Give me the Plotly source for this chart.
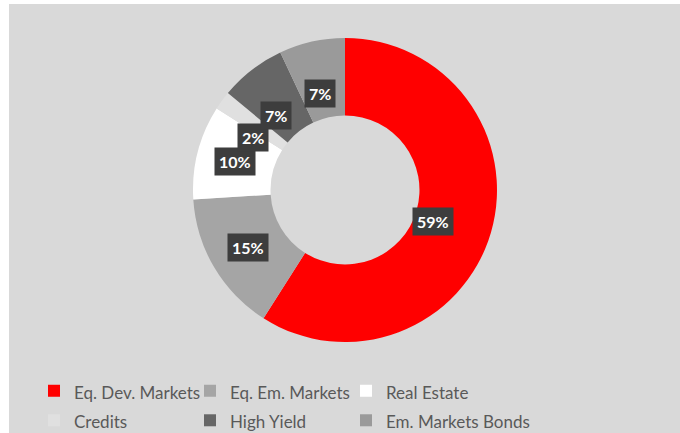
import math
import plotly.graph_objects as go

categories = ["Eq. Dev. Markets", "Eq. Em. Markets", "Real Estate", "Credits", "High Yield", "Em. Markets Bonds"]
values = [59, 15, 10, 2, 7, 7]
colors = ["#ff0000", "#a5a5a5", "#ffffff", "#e0e0e0", "#666666", "#9a9a9a"]

W, H = 680, 433
ML, MT, MR, MB = 9, 4, 150, 0
PW, PH = W - ML - MR, H - MT - MB

# pie geometry in pixels
cx, cy, R = 345, 190, 152
hole = 0.49

dom_x = [(cx - R - ML) / PW, (cx + R - ML) / PW]
dom_y = [1 - (cy + R - MT) / PH, 1 - (cy - R - MT) / PH]

legend_labels = ['<span style="font-size:17px">%s</span>' % c for c in categories]

fig = go.Figure()
fig.add_trace(go.Pie(
    labels=legend_labels, values=values, sort=False, direction="clockwise", rotation=0,
    hole=hole, textinfo="none", hoverinfo="label+percent",
    marker=dict(colors=colors, line=dict(width=0)),
    domain=dict(x=dom_x, y=dom_y),
))

# percentage labels in dark boxes, positioned from the values
total = sum(values)
rmid = R * (1 + hole) / 2
cum = 0
annotations = []
for v in values:
    mid = (cum + v / 2) / total * 2 * math.pi
    cum += v
    px = cx + rmid * math.sin(mid)
    py = cy - rmid * math.cos(mid)
    annotations.append(dict(
        x=(px - ML) / PW, y=1 - (py - MT) / PH, xref="paper", yref="paper",
        text="<b>%d%%</b>" % round(v / total * 100), showarrow=False,
        font=dict(family="Lato", size=16, color="#ffffff"),
        bgcolor="#3d3d3d", borderpad=4,
    ))

fig.update_layout(
    width=W, height=H,
    margin=dict(l=ML, t=MT, r=MR, b=MB, autoexpand=False),
    paper_bgcolor="#ffffff",
    shapes=[dict(type="rect", xref="paper", yref="paper", x0=0, x1=1 + MR / PW, y0=0, y1=1,
                 fillcolor="#d9d9d9", line=dict(width=0), layer="below")],
    annotations=annotations,
    showlegend=True,
    legend=dict(orientation="h", x=(34 - ML) / PW, xanchor="left",
                y=1 - (371 - MT) / PH, yanchor="top",
                entrywidth=111, entrywidthmode="pixels",
                font=dict(family="Lato", size=20.4, color="#595959"),
                bgcolor="rgba(0,0,0,0)", traceorder="normal"),
)

post = (
    "document.body.style.margin='0px';"
    "document.querySelectorAll('.legend [clip-path]').forEach(function(e){e.removeAttribute('clip-path');});"
)
fig.write_html("out.html", config={"displayModeBar": False}, post_script=post)
